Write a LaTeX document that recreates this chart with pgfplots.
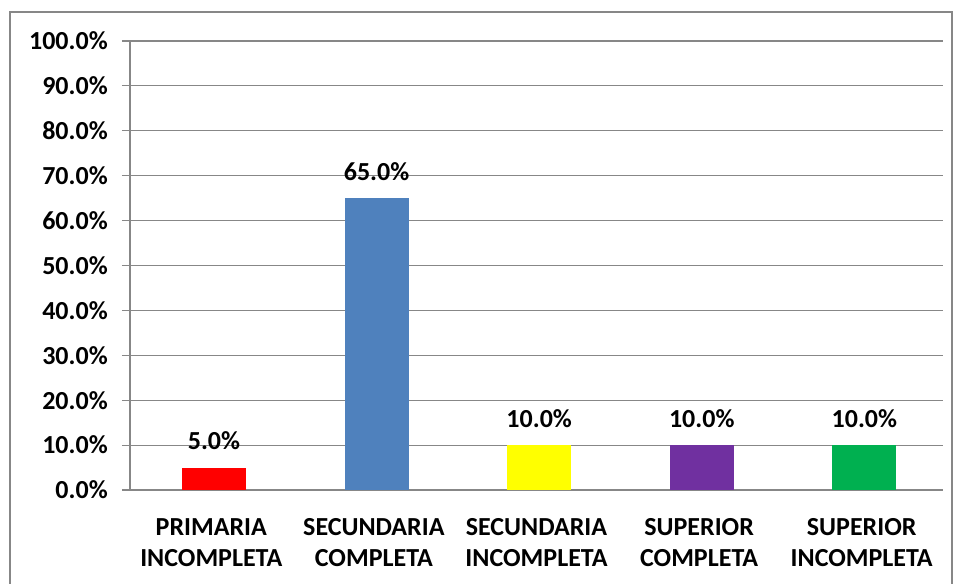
\documentclass[border=0pt]{standalone}
\usepackage{pgfplots}
\pgfplotsset{compat=1.18}
\usepackage{fontspec}
\setmainfont{Carlito}
\definecolor{barred}{HTML}{FF0000}
\definecolor{barblue}{HTML}{4F81BD}
\definecolor{baryellow}{HTML}{FFFF00}
\definecolor{barpurple}{HTML}{7030A0}
\definecolor{bargreen}{HTML}{00B050}
\definecolor{gridgray}{HTML}{878787}
\begin{document}
\begin{tikzpicture}
\useasboundingbox (0pt,0pt) rectangle (717pt,-437.25pt);
\draw[gridgray, line width=1.2pt] (7.5pt,-450pt) -- (7.5pt,-9pt) -- (714pt,-9pt) -- (714pt,-450pt);
\begin{axis}[
  at={(97.5pt,-367.5pt)}, anchor=south west,
  scale only axis, width=609.75pt, height=336.75pt,
  xmin=-0.5, xmax=4.5, ymin=0, ymax=100,
  axis x line=bottom, axis y line=left,
  axis line style={draw=gridgray, -, line width=0.8pt},
  /pgf/number format/assume math mode=true,
  ytick={0,10,...,100},
  yticklabel={\pgfmathprintnumber[fixed,fixed zerofill,precision=1]{\tick}\%},
  ymajorgrids, grid style={gridgray, line width=0.8pt},
  tick align=outside,
  major tick length=6pt,
  tick style={gridgray, line width=0.8pt},
  xtick={0,1,2,3,4},
  x tick style={draw=none},
  xticklabels={{PRIMARIA\\INCOMPLETA},{SECUNDARIA\\COMPLETA},{SECUNDARIA\\INCOMPLETA},{SUPERIOR\\COMPLETA},{SUPERIOR\\INCOMPLETA}},
  minor xtick={-0.5,0.5,1.5,2.5,3.5,4.5},
  minor tick length=6pt,
  minor x tick style={gridgray, line width=0.8pt},
  ticklabel style={font=\fontsize{19.5}{23.3}\selectfont\bfseries},
  xticklabel style={align=center, anchor=north, inner sep=0pt, yshift=-15pt},
  yticklabel style={anchor=east, inner sep=0pt, xshift=-10.5pt},
  ybar, bar width=48pt,
  nodes near coords={\pgfmathprintnumber[fixed,fixed zerofill,precision=1,assume math mode=true]{\pgfplotspointmeta}\%},
  every node near coord/.append style={font=\fontsize{19.5}{23.3}\selectfont\bfseries, anchor=south, inner sep=0pt, yshift=13pt, text=black},
  clip=false,
]
\addplot[fill=barred, draw=none, bar shift=2pt] coordinates {(0,5)};
\addplot[fill=barblue, draw=none, bar shift=2pt] coordinates {(1,65)};
\addplot[fill=baryellow, draw=none, bar shift=2pt] coordinates {(2,10)};
\addplot[fill=barpurple, draw=none, bar shift=2pt] coordinates {(3,10)};
\addplot[fill=bargreen, draw=none, bar shift=2pt] coordinates {(4,10)};
\end{axis}
\end{tikzpicture}
\end{document}
